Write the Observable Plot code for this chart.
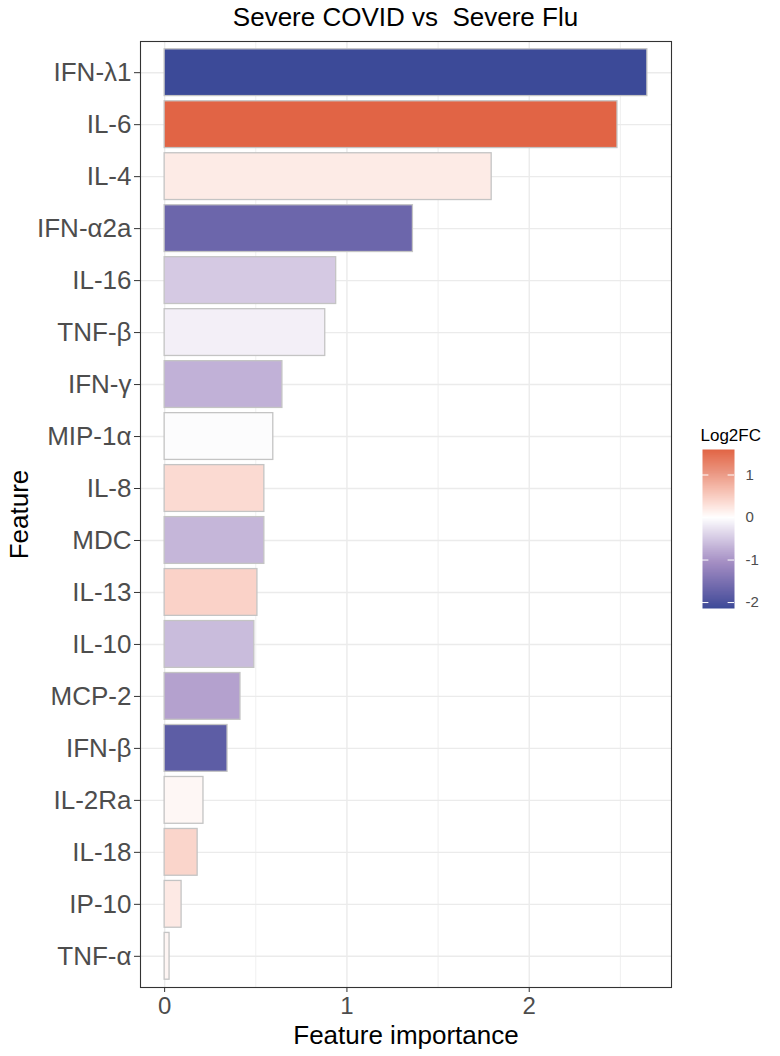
<!DOCTYPE html>
<html>
<head>
<meta charset="utf-8">
<script src="https://cdn.jsdelivr.net/npm/d3@7"></script>
<script src="https://cdn.jsdelivr.net/npm/@observablehq/plot@0.6"></script>
<style>
  html, body { margin: 0; padding: 0; background: white; }
  #wrap { position: relative; width: 780px; height: 1056px; font-family: "Liberation Sans", Arial, Helvetica, sans-serif; }
  #title { position: absolute; left: 140px; width: 531px; top: 4px; line-height: 26px; text-align: center; font-size: 26px; color: #000; white-space: pre; }
  #chart { position: absolute; left: 0; top: 0; }
  #legend { position: absolute; left: 680px; top: 420px; }
</style>
</head>
<body>
<div id="wrap">
  <div id="chart"></div>
  <div id="title">Severe COVID vs  Severe Flu</div>
  <div id="legend"></div>
</div>
<script>
const features = ["IFN-λ1","IL-6","IL-4","IFN-α2a","IL-16","TNF-β","IFN-γ","MIP-1α","IL-8","MDC","IL-13","IL-10","MCP-2","IFN-β","IL-2Ra","IL-18","IP-10","TNF-α"];
const importance = [2.648,2.484,1.794,1.362,0.941,0.881,0.646,0.596,0.547,0.547,0.509,0.492,0.416,0.345,0.213,0.181,0.093,0.027];
const log2fc = [-2.14,1.6,0.2,-1.67,-0.49,-0.14,-0.72,-0.03,0.37,-0.67,0.45,-0.62,-0.87,-1.82,0.08,0.42,0.22,0.1];
const xTicks = [0,1,2];
const xMinorTicks = [0.5,1.5,2.5];
const legendTicks = [-2,-1,0,1];
const palette = ["#3C4A98", "#A38DC3", "#FFFFFF", "#EA9580", "#D22004"];

const data = features.map((f, i) => ({feature: f, importance: importance[i], fc: log2fc[i]}));
const fcMin = d3.min(log2fc), fcMax = d3.max(log2fc);
const impMax = d3.max(importance);

const colorOpts = {
  type: "diverging", pivot: 0, symmetric: true,
  domain: [fcMin, fcMax],
  range: palette,
  interpolate: "lab"
};

const font = '"Liberation Sans", Arial, Helvetica, sans-serif';

const chart = Plot.plot({
  width: 780, height: 1056,
  marginTop: 41, marginBottom: 69, marginLeft: 140, marginRight: 109,
  style: {fontFamily: font, fontSize: "18px", background: "white", overflow: "visible"},
  x: {domain: [-0.05 * impMax, 1.05 * impMax], label: null},
  y: {domain: features, paddingInner: 0.1, paddingOuter: 0.15, round: false, label: null},
  color: colorOpts,
  marks: [
    Plot.ruleX(xMinorTicks, {stroke: "#ebebeb", strokeWidth: 0.8}),
    Plot.ruleX(xTicks, {stroke: "#ebebeb", strokeWidth: 1.4}),
    Plot.ruleY(features, {y: d => d, stroke: "#ebebeb", strokeWidth: 1.4}),
    Plot.barX(data, {x: "importance", y: "feature", fill: "fc", stroke: "#c4c4c4", strokeWidth: 1.3}),
    Plot.frame({stroke: "#333333", strokeWidth: 1.1}),
    Plot.axisX(xTicks, {tickSize: 5, tickPadding: 4, fontSize: 24, tickFormat: d => String(d), fill: "#4d4d4d", stroke: "#333333", label: null}),
    Plot.axisY({tickSize: 6, tickPadding: 3, fontSize: 26, fill: "#4d4d4d", stroke: "#333333", label: null}),
    Plot.text(["Feature importance"], {text: d => d, frameAnchor: "bottom", dy: 48, fontSize: 26, fill: "black", lineAnchor: "middle"}),
    Plot.text(["Feature"], {text: d => d, frameAnchor: "left", dx: -121, rotate: -90, textAnchor: "middle", fontSize: 26, fill: "black", lineAnchor: "middle"})
  ]
});
document.getElementById("chart").appendChild(chart);

const legend = Plot.plot({
  width: 100, height: 200,
  marginTop: 29, marginBottom: 12, marginLeft: 22, marginRight: 46,
  style: {fontFamily: font, fontSize: "15px", background: "transparent", overflow: "visible"},
  x: {domain: [0, 1], axis: null},
  y: {domain: [fcMin, fcMax], axis: null},
  color: colorOpts,
  marks: [
    Plot.raster({x1: 0, x2: 1, y1: fcMin, y2: fcMax, width: 1, height: 200, fill: (x, y) => y, imageRendering: "auto"}),
    Plot.ruleY(legendTicks, {y: d => d, x1: 0, x2: 0.2, stroke: "white", strokeWidth: 1}),
    Plot.ruleY(legendTicks, {y: d => d, x1: 0.8, x2: 1, stroke: "white", strokeWidth: 1}),
    Plot.text(legendTicks, {y: d => d, text: d => String(d), frameAnchor: "right", dx: 11, textAnchor: "start", fontSize: 15, fill: "#4d4d4d"}),
    Plot.text(["Log2FC"], {text: d => d, frameAnchor: "top-left", dy: -21, dx: -2, textAnchor: "start", fontSize: 17, fill: "black"})
  ]
});
document.getElementById("legend").appendChild(legend);
</script>
</body>
</html>
